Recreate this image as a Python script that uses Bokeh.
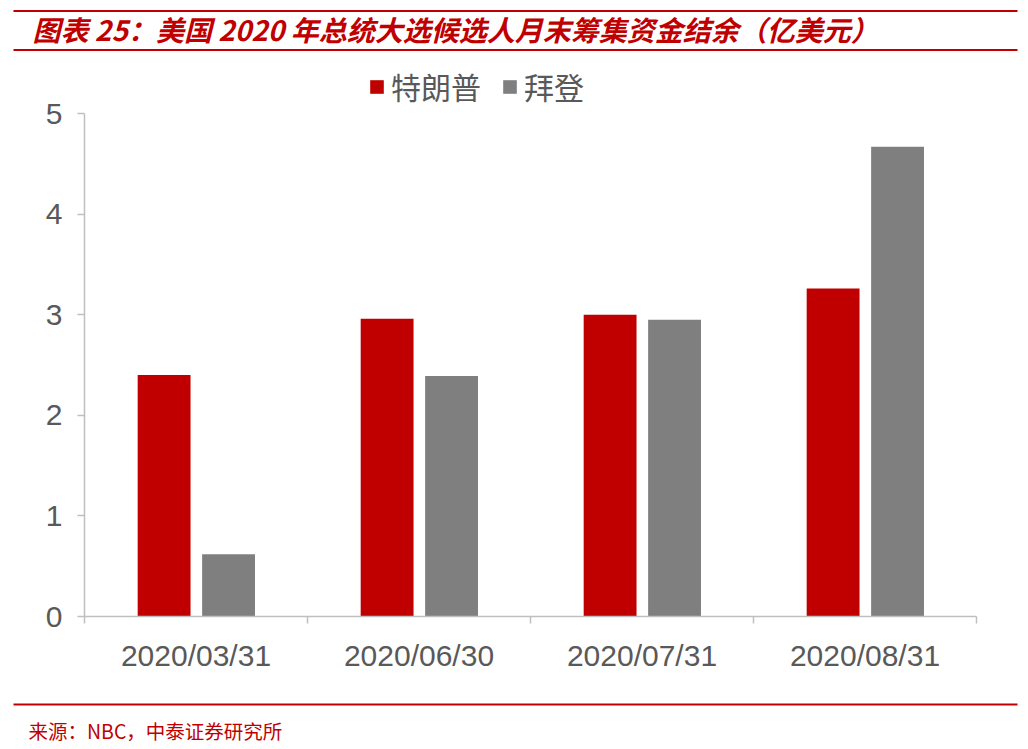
import numpy as np
from bokeh.plotting import figure
from bokeh.models import (ColumnDataSource, Range1d, FixedTicker, Legend, LegendItem,
                          Label, BoxAnnotation)
from bokeh.transform import dodge
from bokeh.embed import file_html
from bokeh.resources import INLINE

# ---- data ----
dates = ["2020/03/31", "2020/06/30", "2020/07/31", "2020/08/31"]
trump = [2.40, 2.96, 3.00, 3.26]
biden = [0.62, 2.39, 2.95, 4.67]
series_names = ["特朗普", "拜登"]
y_ticks = [0, 1, 2, 3, 4, 5]
title_text = "图表 25：美国 2020 年总统大选候选人月末筹集资金结余（亿美元）"
source_text = "来源：NBC，中泰证券研究所"

RED = "#c00000"
GRAY = "#7f7f7f"
AXIS = "#bfbfbf"
TICKTXT = "#595959"
CJK = "Noto Sans CJK SC"
LAT = "Liberation Sans"

W = 1028
H_HEAD, H_CHART, H_FOOT = 62, 628, 59


def blank(height):
    f = figure(width=W, height=height, output_backend="svg", toolbar_location=None,
               x_range=Range1d(0, W), y_range=Range1d(0, height),
               x_axis_location=None, y_axis_location=None, min_border=0)
    f.outline_line_color = None
    f.grid.visible = False
    return f


def red_line(y0, y1):
    return BoxAnnotation(left=13, right=1017, bottom=y0, top=y1,
                         fill_color=RED, fill_alpha=1, line_color=None)


# ---- header ----
head = blank(H_HEAD)
head.add_layout(red_line(50.5, 52.5))
head.add_layout(red_line(11.5, 13.5))
head.add_layout(Label(x=32, y=34, text=title_text, text_font=CJK, text_font_size="28px",
                      text_font_style="bold italic", text_color=RED,
                      text_baseline="middle", text_align="left"))

# ---- chart ----
centers = list(np.arange(len(dates)) + 0.5)
src = ColumnDataSource(dict(x=centers, trump=trump, biden=biden))

y_top = 5 * (H_CHART - 74) / 503.0
p = figure(width=W, height=H_CHART, output_backend="svg", toolbar_location=None,
           x_range=Range1d(0, len(dates)), y_range=Range1d(0, y_top),
           min_border_left=84, min_border_right=52, min_border_top=0, min_border_bottom=74)
p.outline_line_color = None
p.grid.visible = False

r1 = p.vbar(x=dodge("x", -0.143, range=p.x_range), top="trump", width=0.237,
            source=src, fill_color=RED, line_color=None)
r2 = p.vbar(x=dodge("x", 0.146, range=p.x_range), top="biden", width=0.237,
            source=src, fill_color=GRAY, line_color=None)

xa = p.xaxis[0]
xa.ticker = FixedTicker(ticks=centers, minor_ticks=list(range(len(dates) + 1)))
xa.major_label_overrides = {c: d for c, d in zip(centers, dates)}
xa.major_tick_line_color = None
xa.major_tick_out = 0
xa.major_tick_in = 0
xa.minor_tick_line_color = AXIS
xa.minor_tick_line_width = 1.5
xa.minor_tick_out = 7
xa.minor_tick_in = 0
xa.axis_line_color = AXIS
xa.axis_line_width = 1.5
xa.major_label_text_font = LAT
xa.major_label_text_font_size = "30px"
xa.major_label_text_color = TICKTXT
xa.major_label_standoff = 15

ya = p.yaxis[0]
ya.ticker = FixedTicker(ticks=y_ticks)
ya.bounds = (0, 5)
ya.minor_tick_line_color = None
ya.major_tick_line_color = AXIS
ya.major_tick_line_width = 1.5
ya.major_tick_out = 7
ya.major_tick_in = 0
ya.axis_line_color = AXIS
ya.axis_line_width = 1.5
ya.major_label_text_font = LAT
ya.major_label_text_font_size = "30px"
ya.major_label_text_color = TICKTXT
ya.major_label_standoff = 15

legend = Legend(items=[LegendItem(label=series_names[0], renderers=[r1]),
                       LegendItem(label=series_names[1], renderers=[r2])],
                orientation="horizontal", location=(284, 508),
                padding=0, margin=0, spacing=20, label_standoff=6,
                glyph_width=17, glyph_height=17,
                border_line_color=None, background_fill_alpha=0,
                label_text_font=CJK, label_text_font_size="30px",
                label_text_color=TICKTXT)
p.add_layout(legend, "center")

# ---- footer ----
foot = blank(H_FOOT)
foot.add_layout(red_line(44, 46))
foot.add_layout(Label(x=28, y=19, text=source_text, text_font=CJK, text_font_size="19.5px",
                      text_color=RED, text_baseline="middle", text_align="left"))

open("out.html", "w").write(file_html([head, p, foot], INLINE))
